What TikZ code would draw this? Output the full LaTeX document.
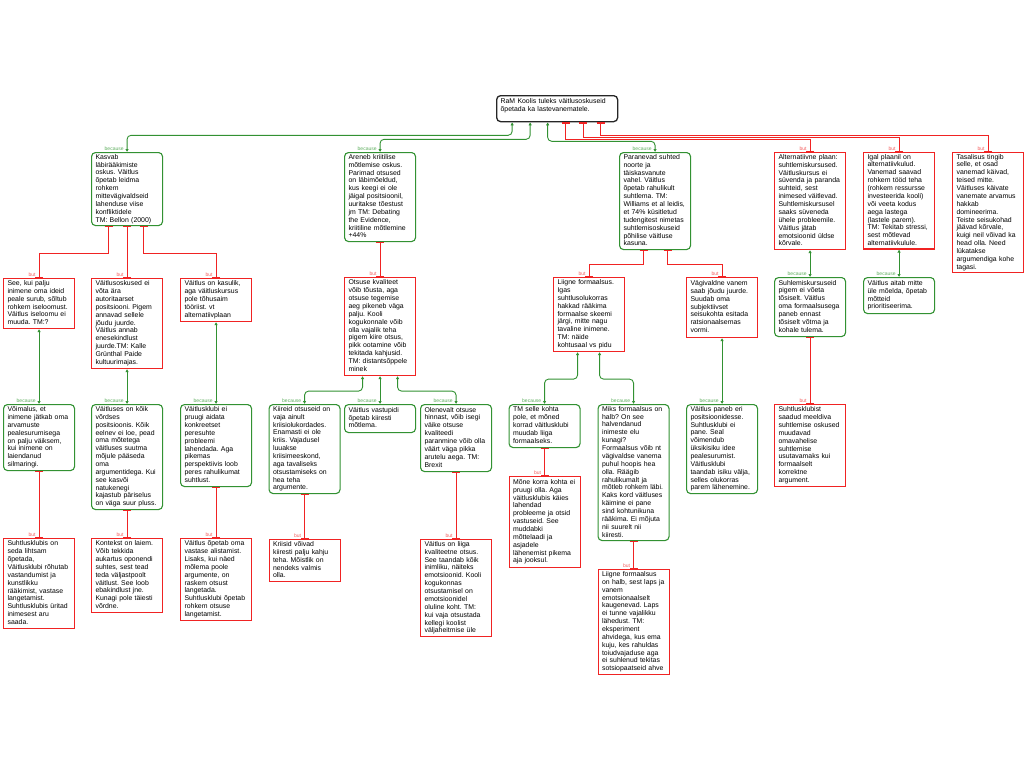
\documentclass[tikz,border=0pt]{standalone}
\usepackage{fontspec}
\setmainfont{Liberation Sans}
\usetikzlibrary{arrows.meta}
\definecolor{gcol}{RGB}{50,145,50}
\definecolor{rcol}{RGB}{240,35,35}
\definecolor{glab}{RGB}{95,175,95}
\definecolor{rlab}{RGB}{245,95,95}
\newcommand\bx[1]{\begin{tabular}{@{}l@{}}#1\end{tabular}}
\frenchspacing
\begin{document}
\begin{tikzpicture}[x=1pt,y=-1pt,
 box/.style={draw, anchor=north west, text width=63pt, inner xsep=4pt, inner ysep=1pt, align=left, font=\fontsize{6.9}{7.87}\selectfont, line width=1.1pt, text=black},
 pbox/.style={box, draw=gcol, rounded corners=4pt},
 cbox/.style={box, draw=rcol},
 rootbox/.style={box, draw=black!85, rounded corners=4pt, text width=113pt, line width=1.3pt},
 pro/.style={draw=gcol, line width=0.9pt, rounded corners=4pt, {Latex[length=3pt,width=3.5pt]}-{Latex[length=3pt,width=3.5pt]}},
 con/.style={draw=rcol, line width=0.9pt, {Bar[width=8pt,line width=1.3pt]}-{Bar[width=8pt,line width=1.3pt]}},
 prolab/.style={anchor=south east, xshift=-3pt, yshift=1pt, inner sep=0pt, font=\fontsize{5}{5}\selectfont, text=glab},
 conlab/.style={anchor=south east, xshift=-3pt, yshift=1pt, inner sep=0pt, font=\fontsize{5}{5}\selectfont, text=rlab}
]
\fill[white] (0,0) rectangle (1024,768);
\useasboundingbox (0,0) rectangle (1024,768);

% root
\node[rootbox, minimum height=26pt] (root) at (496,95) {\bx{RaM Koolis tuleks väitlusoskuseid\\õpetada ka lastevanematele.\\[6pt]}};

% level 1
\node[pbox, minimum height=73pt] (kasvab) at (91,152) {\bx{Kasvab\\läbirääkimiste\\oskus. Väitlus\\õpetab leidma\\rohkem\\mittevägivaldseid\\lahenduse viise\\konfliktidele\\TM: Bellon (2000)}};
\node[pbox, minimum height=89pt] (areneb) at (344,152) {\bx{Areneb kriitilise\\mõtlemise oskus.\\Parimad otsused\\on läbimõeldud,\\kus keegi ei ole\\jäigal positsioonil,\\uuritakse tõestust\\jm TM: Debating\\the Evidence,\\kriitiline mõtlemine\\+44\%}};
\node[pbox, minimum height=97pt] (paran) at (619,152) {\bx{Paranevad suhted\\noorte ja\\täiskasvanute\\vahel. Väitlus\\õpetab rahulikult\\suhtlema. TM:\\Williams et al leidis,\\et 74\% küsitletud\\tudengitest nimetas\\suhtlemisoskuseid\\põhilise väitluse\\kasuna.}};
\node[cbox, minimum height=97pt] (alt) at (774,152) {\bx{Alternatiivne plaan:\\suhtlemiskursused.\\Väitluskursus ei\\süvenda ja paranda\\suhteid, sest\\inimesed väitlevad.\\Suhtlemiskursusel\\saaks süveneda\\ühele probleemile.\\Väitlus jätab\\emotsioonid üldse\\kõrvale.}};
\node[cbox, minimum height=96pt] (igal) at (863,152) {\bx{Igal plaanil on\\alternatiivkulud.\\Vanemad saavad\\rohkem tööd teha\\(rohkem ressursse\\investeerida kooli)\\või veeta kodus\\aega lastega\\(lastele parem).\\TM: Tekitab stressi,\\sest mõtlevad\\alternatiivkulule.}};
\node[cbox, minimum height=119pt] (tasa) at (952,152) {\bx{Tasalisus tingib\\selle, et osad\\vanemad käivad,\\teised mitte.\\Väitluses käivate\\vanemate arvamus\\hakkab\\domineerima.\\Teiste seisukohad\\jäävad kõrvale,\\kuigi neil võivad ka\\head olla. Need\\lükatakse\\argumendiga kohe\\tagasi.}};

% level 2
\node[cbox, minimum height=50pt] (seekui) at (3,278) {\bx{See, kui palju\\inimene oma ideid\\peale surub, sõltub\\rohkem iseloomust.\\Väitlus iseloomu ei\\muuda. TM:?}};
\node[cbox, minimum height=90pt] (oskused) at (91,278) {\bx{Väitlusoskused ei\\võta ära\\autoritaarset\\positsiooni. Pigem\\annavad sellele\\jõudu juurde.\\Väitlus annab\\enesekindlust\\juurde.TM: Kalle\\Grünthal Paide\\kultuurimajas.}};
\node[cbox, minimum height=43pt] (kasulik) at (180,278) {\bx{Väitlus on kasulik,\\aga väitluskursus\\pole tõhusaim\\tööriist. vt\\alternatiivplaan}};
\node[cbox, minimum height=98pt] (otsuse) at (344,277) {\bx{Otsuse kvaliteet\\võib tõusta, aga\\otsuse tegemise\\aeg pikeneb väga\\palju. Kooli\\kogukonnale võib\\olla vajalik teha\\pigem kiire otsus,\\pikk ootamine võib\\tekitada kahjusid.\\TM: distantsõppele\\minek}};
\node[cbox, minimum height=74pt] (liigne) at (553,277) {\bx{Liigne formaalsus.\\Igas\\suhtlusolukorras\\hakkad rääkima\\formaalse skeemi\\järgi, mitte nagu\\tavaline inimene.\\TM: näide\\kohtusaal vs pidu}};
\node[cbox, minimum height=60pt] (vagi) at (686,277) {\bx{Vägivaldne vanem\\saab jõudu juurde.\\Suudab oma\\subjektiivset\\seisukohta esitada\\ratsionaalsemas\\vormi.}};
\node[pbox, minimum height=59pt] (suhlem) at (774,277) {\bx{Suhlemiskursuseid\\pigem ei võeta\\tõsiselt. Väitlus\\oma formaalsusega\\paneb ennast\\tõsiselt võtma ja\\kohale tulema.}};
\node[pbox, minimum height=36pt] (aitab) at (863,277) {\bx{Väitlus aitab mitte\\üle mõelda, õpetab\\mõtteid\\prioritiseerima.}};

% level 3
\node[pbox, minimum height=66pt] (voimalus) at (3,404) {\bx{Võimalus, et\\inimene jätkab oma\\arvamuste\\pealesurumisega\\on palju väiksem,\\kui inimene on\\laiendanud\\silmaringi.}};
\node[pbox, minimum height=105pt] (vordses) at (91,404) {\bx{Väitluses on kõik\\võrdses\\positsioonis. Kõik\\eelnev ei loe, pead\\oma mõtetega\\väitluses suutma\\mõjule pääseda\\oma\\argumentidega. Kui\\see kasvõi\\natukenegi\\kajastub päriselus\\on väga suur pluss.}};
\node[pbox, minimum height=82pt] (klubiei) at (180,404) {\bx{Väitlusklubi ei\\pruugi aidata\\konkreetset\\peresuhte\\probleemi\\lahendada. Aga\\pikemas\\perspektiivis loob\\peres rahulikumat\\suhtlust.}};
\node[pbox, minimum height=89pt] (kiireid) at (268.5,404) {\bx{Kiireid otsuseid on\\vaja ainult\\kriisiolukordades.\\Enamasti ei ole\\kriis. Vajadusel\\luuakse\\kriisimeeskond,\\aga tavaliseks\\otsustamiseks on\\hea teha\\argumente.}};
\node[pbox, minimum height=28pt] (vastu) at (344,404) {\bx{Väitlus vastupidi\\õpetab kiiresti\\mõtlema.}};
\node[pbox, minimum height=67pt] (olenev) at (420,404) {\bx{Olenevalt otsuse\\hinnast, võib isegi\\väike otsuse\\kvaliteedi\\paranmine võib olla\\väärt väga pikka\\arutelu aega. TM:\\Brexit}};
\node[pbox, minimum height=43pt] (tmselle) at (508.5,404) {\bx{TM selle kohta\\pole, et mõned\\korrad väitlusklubi\\muudab liiga\\formaalseks.}};
\node[pbox, minimum height=136pt] (miks) at (597.5,404) {\bx{Miks formaalsus on\\halb? On see\\halvendanud\\inimeste elu\\kunagi?\\Formaalsus võib nt\\vägivaldse vanema\\puhul hoopis hea\\olla. Räägib\\rahulikumalt ja\\mõtleb rohkem läbi.\\Kaks kord väitluses\\käimine ei pane\\sind kohtunikuna\\rääkima. Ei mõjuta\\nii suurelt nii\\kiiresti.}};
\node[pbox, minimum height=89pt] (paneb) at (686,404) {\bx{Väitlus paneb eri\\positsioonidesse.\\Suhtlusklubi ei\\pane. Seal\\võimendub\\üksikisiku idee\\pealesurumist.\\Väitlusklubi\\taandab isiku välja,\\selles olukorras\\parem lähenemine.}};
\node[cbox, minimum height=82pt] (saadud) at (774,404) {\bx{Suhtlusklubist\\saadud meeldiva\\suhtlemise oskused\\muudavad\\omavahelise\\suhtlemise\\usutavamaks kui\\formaalselt\\korrektne\\argument.}};

% level 4
\node[cbox, minimum height=90pt] (suhtlus) at (3,538) {\bx{Suhtlusklubis on\\seda lihtsam\\õpetada,\\Väitlusklubi rõhutab\\vastandumist ja\\kunstlikku\\rääkimist, vastase\\langetamist.\\Suhtlusklubis üritad\\inimesest aru\\saada.}};
\node[cbox, minimum height=74pt] (kontekst) at (91,538) {\bx{Kontekst on laiem.\\Võib tekkida\\aukartus oponendi\\suhtes, sest tead\\teda väljastpoolt\\väitlust. See loob\\ebakindlust jne.\\Kunagi pole täiesti\\võrdne.}};
\node[cbox, minimum height=82pt] (alistam) at (180,538) {\bx{Väitlus õpetab oma\\vastase alistamist.\\Lisaks, kui näed\\mõlema poole\\argumente, on\\raskem otsust\\langetada.\\Suhtlusklubi õpetab\\rohkem otsuse\\langetamist.}};
\node[cbox, minimum height=42pt] (kriisid) at (268.5,539) {\bx{Kriisid võivad\\kiiresti palju kahju\\teha. Mõistlik on\\nendeks valmis\\olla.}};
\node[cbox, minimum height=97pt] (liiga) at (420,539) {\bx{Väitlus on liiga\\kvaliteetne otsus.\\See taandab kõik\\inimliku, näiteks\\emotsioonid. Kooli\\kogukonnas\\otsustamisel on\\emotsioonidel\\oluline koht. TM:\\kui vaja otsustada\\kellegi koolist\\väljaheitmise üle}};
\node[cbox, minimum height=91pt] (mone) at (508.5,476) {\bx{Mõne korra kohta ei\\pruugi olla. Aga\\väitlusklubis käies\\lahendad\\probleeme ja otsid\\vastuseid. See\\muddabki\\mõttelaadi ja\\asjadele\\lähenemist pikema\\aja jooksul.}};
\node[cbox, minimum height=105pt] (halb) at (597.5,569) {\bx{Liigne formaalsus\\on halb, sest laps ja\\vanem\\emotsionaalselt\\kaugenevad. Laps\\ei tunne vajalikku\\lähedust. TM:\\eksperiment\\ahvidega, kus ema\\kuju, kes rahuldas\\toiudvajaduse aga\\ei suhlenud tekitas\\sotsiopaatseid ahve}};

% connectors from root
\draw[pro] ([xshift=-45pt]root.south) -- ++(0,13) -| (kasvab.north) node[prolab]{because};
\draw[pro] ([xshift=-27pt]root.south) -- ++(0,17) -| (areneb.north) node[prolab]{because};
\draw[pro] ([xshift=-9.5pt]root.south) -- ++(0,19) -| (paran.north) node[prolab]{because};
\draw[con] ([xshift=8.5pt]root.south) -- ++(0,17) -| (alt.north) node[conlab]{but};
\draw[con] ([xshift=26pt]root.south) -- ++(0,15) -| (igal.north) node[conlab]{but};
\draw[con] ([xshift=43.5pt]root.south) -- ++(0,13) -| (tasa.north) node[conlab]{but};

% level 1 -> level 2
\draw[con] ([xshift=-18.5pt]kasvab.south) -- ++(0,27) -| (seekui.north) node[conlab]{but};
\draw[con] (kasvab.south) -- (oskused.north) node[conlab]{but};
\draw[con] ([xshift=16.5pt]kasvab.south) -- ++(0,27) -| (kasulik.north) node[conlab]{but};
\draw[con] (areneb.south) -- (otsuse.north) node[conlab]{but};
\draw[con] ([xshift=-11.5pt]paran.south) -- ++(0,14) -| (liigne.north) node[conlab]{but};
\draw[con] ([xshift=12.5pt]paran.south) -- ++(0,14) -| (vagi.north) node[conlab]{but};
\draw[pro] (alt.south) -- (suhlem.north) node[prolab]{because};
\draw[pro] (igal.south) -- (aitab.north) node[prolab]{because};

% level 2 -> level 3
\draw[pro] (seekui.south) -- (voimalus.north) node[prolab]{because};
\draw[pro] (oskused.south) -- (vordses.north) node[prolab]{because};
\draw[pro] (kasulik.south) -- (klubiei.north) node[prolab]{because};
\draw[pro] ([xshift=-17.5pt]otsuse.south) -- ++(0,15) -| (kiireid.north) node[prolab]{because};
\draw[pro] (otsuse.south) -- (vastu.north) node[prolab]{because};
\draw[pro] ([xshift=17.5pt]otsuse.south) -- ++(0,15) -| (olenev.north) node[prolab]{because};
\draw[pro] ([xshift=-11.5pt]liigne.south) -- ++(0,27) -| (tmselle.north) node[prolab]{because};
\draw[pro] ([xshift=10.5pt]liigne.south) -- ++(0,27) -| (miks.north) node[prolab]{because};
\draw[pro] (vagi.south) -- (paneb.north) node[prolab]{because};
\draw[con] (suhlem.south) -- (saadud.north) node[conlab]{but};

% level 3 -> level 4
\draw[con] (voimalus.south) -- (suhtlus.north) node[conlab]{but};
\draw[con] (vordses.south) -- (kontekst.north) node[conlab]{but};
\draw[con] (klubiei.south) -- (alistam.north) node[conlab]{but};
\draw[con] (kiireid.south) -- (kriisid.north) node[conlab]{but};
\draw[con] (olenev.south) -- (liiga.north) node[conlab]{but};
\draw[con] (tmselle.south) -- (mone.north) node[conlab]{but};
\draw[con] (miks.south) -- (halb.north) node[conlab]{but};
\end{tikzpicture}
\end{document}
